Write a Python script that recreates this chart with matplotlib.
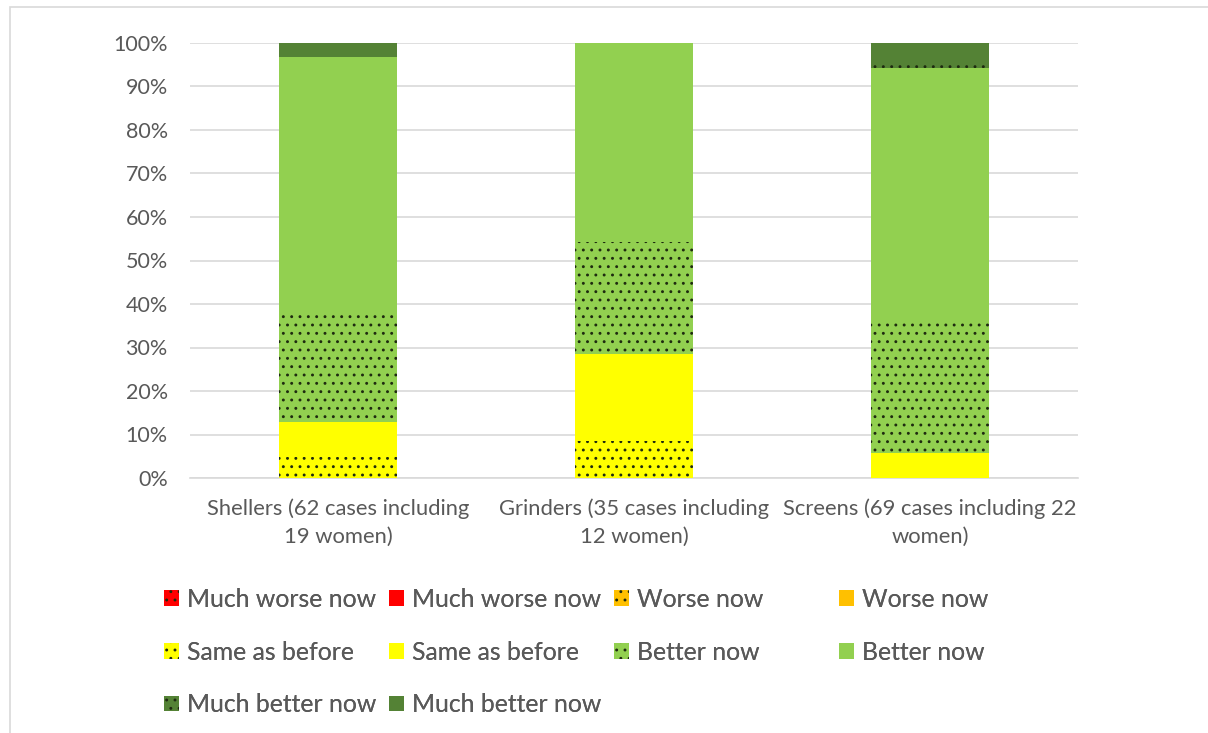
import matplotlib.pyplot as plt
import numpy as np
from matplotlib.patches import Rectangle

categories = ["Shellers (62 cases including\n19 women)",
              "Grinders (35 cases including\n12 women)",
              "Screens (69 cases including 22\nwomen)"]
totals = [62, 35, 69]

# counts per response, women (dotted) and men (solid), bottom to top
series = [
    ("Much worse now", True, "#FF0000", [0, 0, 0]),
    ("Much worse now", False, "#FF0000", [0, 0, 0]),
    ("Worse now", True, "#FFC000", [0, 0, 0]),
    ("Worse now", False, "#FFC000", [0, 0, 0]),
    ("Same as before", True, "#FFFF00", [3, 3, 0]),
    ("Same as before", False, "#FFFF00", [5, 7, 4]),
    ("Better now", True, "#92D050", [16, 9, 21]),
    ("Better now", False, "#92D050", [36, 16, 40]),
    ("Much better now", True, "#548235", [0, 0, 1]),
    ("Much better now", False, "#548235", [2, 0, 3]),
]


def main():
    plt.rcParams["font.family"] = ["Lato", "DejaVu Sans"]
    plt.rcParams["hatch.linewidth"] = 0.9

    fig = plt.figure(figsize=(12.08, 7.33), dpi=100)
    fig.patches.append(Rectangle((10 / 1208, -0.05), 1.2, 1 - 7 / 733 + 0.05,
                                 transform=fig.transFigure, fill=False,
                                 edgecolor="#d9d9d9", linewidth=1.2))
    ax = fig.add_axes([190 / 1208, 1 - 478 / 733, 888 / 1208, 435 / 733])

    x = np.arange(len(categories))
    bottom = np.zeros(len(categories))
    handles = []
    for name, dotted, color, counts in series:
        pct = np.array(counts) / np.array(totals) * 100
        b = ax.bar(x, pct, 0.4, bottom=bottom, color=color,
                   edgecolor="#1e2a10", linewidth=0,
                   hatch=".." if dotted else None, label=name, zorder=3)
        handles.append(b)
        bottom += pct

    ax.set_xlim(-0.5, 2.5)
    ax.set_ylim(0, 100)
    ax.set_yticks(range(0, 101, 10))
    ax.set_yticklabels([f"{v}%" for v in range(0, 101, 10)])
    ax.set_xticks(x)
    ax.set_xticklabels(categories, linespacing=1.45)
    ax.grid(axis="y", color="#d9d9d9", linewidth=1.2, zorder=0)
    for s in ["top", "right", "left"]:
        ax.spines[s].set_visible(False)
    ax.spines["bottom"].set_color("#d9d9d9")
    ax.spines["bottom"].set_linewidth(1.2)
    ax.tick_params(axis="y", length=0, colors="#595959", labelsize=15.5, pad=16)
    ax.tick_params(axis="x", length=0, colors="#595959", labelsize=15.8, pad=15)

    # legend laid out in 4 evenly spaced columns, filled row by row
    columns = [[0, 4, 8], [1, 5, 9], [2, 6], [3, 7]]
    for c, idx in enumerate(columns):
        leg = fig.legend([handles[i] for i in idx], [series[i][0] for i in idx],
                         loc="upper left",
                         bbox_to_anchor=((164 + 225 * c) / 1208, 1 - 588 / 733),
                         frameon=False, fontsize=17.8, labelcolor="#595959",
                         handlelength=0.6, handleheight=0.6, handletextpad=0.35,
                         labelspacing=1.2, borderaxespad=0, borderpad=0)
        fig.add_artist(leg)

    fig.savefig("out.png", dpi=100)
    plt.close(fig)


if __name__ == "__main__":
    main()
